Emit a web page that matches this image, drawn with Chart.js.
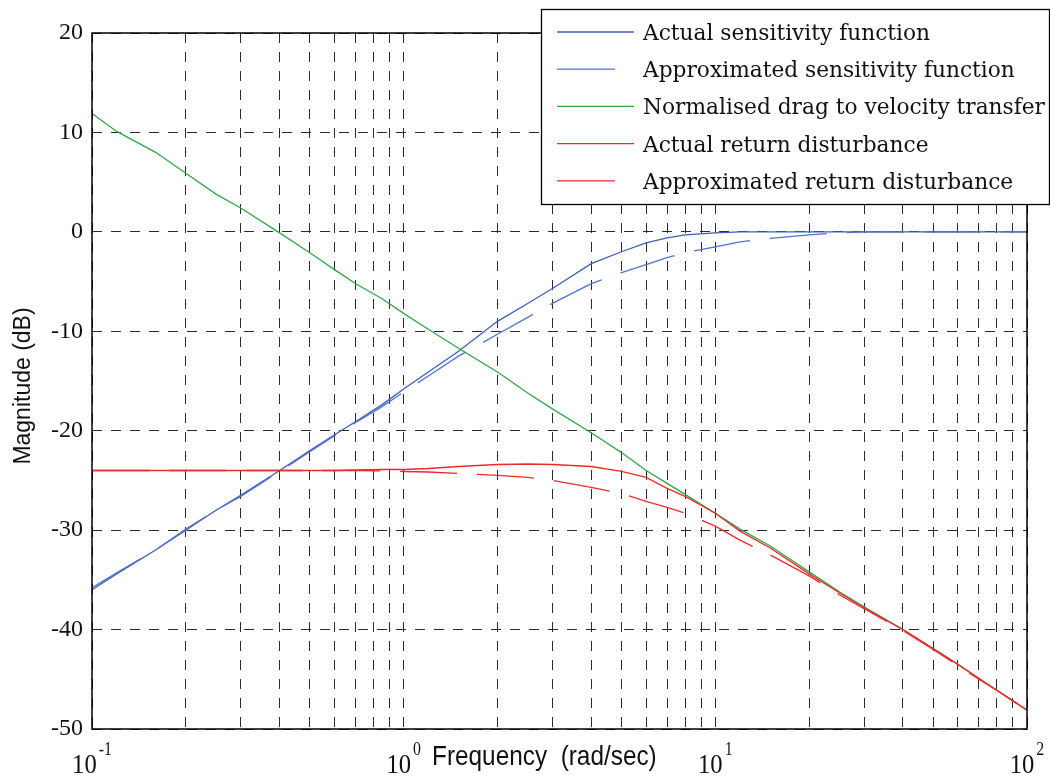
<!DOCTYPE html>
<html>
<head>
<meta charset="utf-8">
<script src="https://cdn.jsdelivr.net/npm/chart.js@4.4.1/dist/chart.umd.min.js"></script>
<style>
html,body{margin:0;padding:0;background:#fff;}
canvas{display:block;}
</style>
</head>
<body>
<canvas id="bode" width="1050" height="777"></canvas>
<script>
// frequency points (rad/sec) shared by every curve
const freqs=[0.1,0.12,0.16,0.2,0.25,0.3,0.4,0.5,0.6,0.7,0.85,1,1.2,1.5,2,2.5,3,4,5,6,7,8,10,12,15,20,25,30,40,50,60,70,80,100];

// magnitudes in dB
const sensActual=[-36.0,-34.4,-32.0,-30.0,-28.0,-26.5,-24.0,-22.0,-20.4,-19.1,-17.4,-15.8,-14.1,-12.0,-9.0,-7.2,-5.7,-3.2,-2.0,-1.1,-0.6,-0.3,-0.1,0,0,0,0,0,0,0,0,0,0,0];
const sensApprox=[-35.8,-34.3,-32.0,-29.9,-28.0,-26.6,-24.1,-22.1,-20.5,-19.2,-17.6,-16.1,-14.5,-12.5,-10.3,-8.6,-7.2,-5.2,-4.1,-3.3,-2.6,-2.1,-1.5,-1.0,-0.65,-0.3,-0.1,0,0,0,0,0,0,0];
const dragToVel=[11.9,10.1,8.0,5.9,3.8,2.4,-0.1,-2.1,-3.8,-5.2,-6.7,-8.2,-9.8,-11.7,-14.1,-16.2,-17.8,-20.2,-22.2,-24.0,-25.3,-26.4,-28.3,-29.9,-31.6,-34.2,-36.2,-37.7,-40.0,-41.9,-43.5,-44.9,-46.1,-48.1];
const distActual=[-24.0,-24.0,-24.0,-24.0,-24.0,-24.0,-24.0,-24.0,-24.0,-23.95,-23.9,-23.9,-23.8,-23.6,-23.4,-23.35,-23.4,-23.6,-24.1,-24.7,-25.8,-26.6,-28.3,-30.1,-31.8,-34.4,-36.3,-37.8,-40.0,-41.9,-43.5,-44.9,-46.1,-48.1];
const distApprox=[-24.0,-24.0,-24.0,-24.0,-24.0,-24.0,-24.0,-24.0,-24.0,-24.0,-24.05,-24.1,-24.15,-24.3,-24.5,-24.7,-25.0,-25.7,-26.3,-27.1,-27.7,-28.3,-29.6,-31.0,-32.5,-34.6,-36.5,-37.9,-40.1,-42.0,-43.6,-45.0,-46.1,-48.1];

const seriesNames=["Actual sensitivity function","Approximated sensitivity function","Normalised drag to velocity transfer","Actual return disturbance","Approximated return disturbance"];
const yTicks=[20,10,0,-10,-20,-30,-40,-50];
const decades=[-1,0,1,2];

const colors=["#3f5fb5","#5273c8","#2ea64a","#ee2b2b","#f2292c"];
const dashed=[false,true,false,false,true];

// minor + major grid positions on the log axis
const gridFreqs=[];
for(let d=-1;d<2;d++){
    for(let k=1;k<10;k++) gridFreqs.push(k*Math.pow(10,d));
}
gridFreqs.push(100);

function pts(vals){
    return freqs.map((f,i)=>({x:f,y:vals[i]}));
}

const allSeries=[sensActual,sensApprox,dragToVel,distActual,distApprox];
const datasets=allSeries.map((vals,i)=>({
    label:seriesNames[i],
    data:pts(vals),
    borderColor:colors[i],
    borderWidth:1.3,
    borderDash:dashed[i]?[57,20]:[],
    pointRadius:0,
    tension:0,
    fill:false,
    order:5-i
}));

const extras={
    id:"extras",
    afterDraw(chart){
        const ctx=chart.ctx;
        const a=chart.chartArea;
        const xs=chart.scales.x;

        // frame
        ctx.save();
        ctx.strokeStyle="#000";
        ctx.lineWidth=1.5;
        ctx.strokeRect(a.left,a.top,a.right-a.left,a.bottom-a.top);
        ctx.restore();

        // decade labels 10^n
        ctx.save();
        ctx.fillStyle="#111";
        const sx=0.88;
        decades.forEach(e=>{
            const px=xs.getPixelForValue(Math.pow(10,e));
            ctx.font='28px "Liberation Serif"';
            const w1=ctx.measureText("10").width*sx;
            ctx.font='18px "Liberation Serif"';
            const w2=ctx.measureText(String(e)).width*sx;
            const left=px-(w1+2+w2)/2;
            ctx.save();
            ctx.translate(left,773);
            ctx.scale(sx,1);
            ctx.font='28px "Liberation Serif"';
            ctx.fillText("10",0,0);
            ctx.restore();
            ctx.save();
            ctx.translate(left+w1+2,755);
            ctx.scale(sx,1);
            ctx.font='18px "Liberation Serif"';
            ctx.fillText(String(e),0,0);
            ctx.restore();
        });

        // axis titles
        ctx.save();
        ctx.translate(432,765);
        ctx.scale(0.87,1);
        ctx.font='28px "Liberation Sans"';
        ctx.fillText("Frequency  (rad/sec)",0,0);
        ctx.restore();

        ctx.save();
        ctx.translate(30,386);
        ctx.rotate(-Math.PI/2);
        ctx.textAlign="center";
        ctx.font='23px "Liberation Sans"';
        ctx.fillText("Magnitude (dB)",0,0);
        ctx.restore();
        ctx.restore();

        // legend box
        ctx.save();
        ctx.fillStyle="#fff";
        ctx.fillRect(541,9,508,195);
        ctx.strokeStyle="#000";
        ctx.lineWidth=1.3;
        ctx.strokeRect(541.5,9.5,508,195);
        ctx.font='22px "DejaVu Serif"';
        const lsx=402/ctx.measureText(seriesNames[2]).width;
        chart.data.datasets.forEach((ds,i)=>{
            const y=32+i*37.2;
            ctx.strokeStyle=ds.borderColor;
            ctx.lineWidth=1.3;
            ctx.beginPath();
            ctx.moveTo(557,y);
            ctx.lineTo(dashed[i]?615:634,y);
            ctx.stroke();
            ctx.save();
            ctx.translate(643,y+8);
            ctx.scale(lsx,1);
            ctx.fillStyle="#111";
            ctx.fillText(ds.label,0,0);
            ctx.restore();
        });
        ctx.restore();
    }
};

new Chart(document.getElementById("bode"),{
    type:"line",
    data:{datasets},
    options:{
        responsive:false,
        animation:false,
        layout:{padding:{top:33,right:23,left:0,bottom:0}},
        plugins:{legend:{display:false},tooltip:{enabled:false}},
        scales:{
            x:{
                type:"logarithmic",
                min:0.1,max:100,
                afterBuildTicks:s=>{s.ticks=gridFreqs.map(v=>({value:v}));},
                afterFit:s=>{s.height=48;},
                ticks:{display:false},
                grid:{color:"#2a2a2a",lineWidth:1,drawTicks:false},
                border:{display:false,dash:[10,9]}
            },
            y:{
                min:-50,max:20,
                afterBuildTicks:s=>{s.ticks=yTicks.map(v=>({value:v}));},
                afterFit:s=>{s.width=92;},
                ticks:{font:{family:"Liberation Serif",size:24},color:"#111",padding:9},
                grid:{color:"#2a2a2a",lineWidth:1,drawTicks:false},
                border:{display:false,dash:[10,9]}
            }
        }
    },
    plugins:[extras]
});
</script>
</body>
</html>
